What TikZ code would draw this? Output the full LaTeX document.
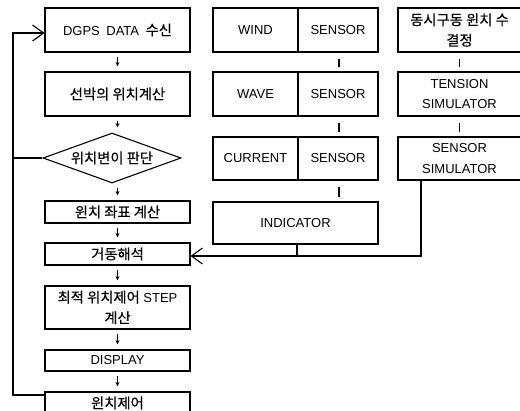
\documentclass[tikz,border=0pt]{standalone}
\usepackage{fontspec}
\setmainfont{Liberation Sans}
\newfontfamily\kr[Scale=1.1,FakeBold=0.4]{Noto Sans CJK KR}
\usetikzlibrary{arrows.meta,shapes.geometric}
\begin{document}
\begin{tikzpicture}[x=1pt,y=-1pt,
  every node/.style={font=\fontsize{13}{20.5}\selectfont, inner sep=0pt, align=center},
  box/.style={draw, line width=1.1pt, rectangle, minimum width=145pt},
  midbox/.style={draw, line width=1.1pt, rectangle, minimum width=165pt},
  rbox/.style={draw, line width=1.1pt, rectangle, minimum width=123pt, minimum height=44pt},
  dia/.style={draw, line width=1.1pt, diamond, minimum width=138pt, minimum height=50pt, aspect=2.76},
  flow/.style={line width=1pt, -{Stealth[length=4.5pt,width=4pt]}, shorten <=4pt, shorten >=5pt},
  tick/.style={line width=1.1pt, shorten <=6pt, shorten >=4pt},
  fb/.style={line width=1.1pt},
  bigarrow/.style={line width=1.1pt, -{Straight Barb[length=11pt,width=16pt,line width=1.1pt]}}]
\useasboundingbox (0,0) rectangle (520,411);
\fill[white] (0,0) rectangle (520,411);

% left column
\node[box, minimum height=44pt] (dgps) at (117.5,30) {DGPS\enspace DATA\enspace{\kr 수신}};
\node[box, minimum height=44pt] (pos) at (117.5,94) {\kr 선박의 위치계산};
\node[dia] (judge) at (112,158) {\kr 위치변이 판단};
\node[box, minimum height=22pt] (wcoord) at (117.5,212) {\kr 윈치 좌표 계산};
\node[box, minimum height=22pt] (dyn) at (117.5,254) {\kr 거동해석};
\node[box, minimum height=43pt] (opt) at (117.5,307.5) {{\kr 최적 위치제어} STEP\\{\kr 계산}};
\node[box, minimum height=21pt] (disp) at (117.5,360.5) {DISPLAY};
\node[box, minimum height=22pt] (wctrl) at (117.5,403) {\kr 윈치제어};

\draw[flow] (dgps.south) -- (pos.north);
\draw[flow] (pos.south) -- (pos.south |- judge.north);
\draw[flow] (pos.south |- judge.south) -- (wcoord.north);
\draw[flow] (wcoord.south) -- (dyn.north);
\draw[flow] (dyn.south) -- (opt.north);
\draw[flow] (opt.south) -- (disp.north);
\draw[flow] (disp.south) -- (wctrl.north);

% feedback loop
\coordinate (fbtop) at (13,33);
\coordinate (fbmid) at (13,158);
\coordinate (fbbot) at (13,395);
\coordinate (dgpsin) at (dgps.west |- fbtop);
\draw[fb] (judge.west) -- (fbmid);
\draw[fb] (wctrl.west |- fbbot) -- (fbbot) -- (fbmid);
\draw[bigarrow] (fbmid) -- (fbtop) -- (dgpsin);

% middle column
\node[midbox, minimum height=44pt] (wind) at (295.5,30) {};
\node[midbox, minimum height=44pt] (wave) at (295.5,94) {};
\node[midbox, minimum height=43pt] (curr) at (295.5,158.5) {};
\node[midbox, minimum height=42pt] (ind) at (295.5,223) {INDICATOR};
\foreach \n in {wind,wave,curr} {
  \draw[line width=1.1pt] (298,0 |- \n.north) -- (298,0 |- \n.south);
}
\node (windl) at (255.5,30) {WIND};
\node (winds) at (338,30) {SENSOR};
\node (wavel) at (255.5,94) {WAVE};
\node (waves) at (338,94) {SENSOR};
\node (currl) at (255.5,158.5) {CURRENT};
\node (currs) at (338,158.5) {SENSOR};
\coordinate (mc) at (339,0);
\draw[tick] (mc |- wind.south) -- (mc |- wave.north);
\draw[tick] (mc |- wave.south) -- (mc |- curr.north);
\draw[tick] (mc |- curr.south) -- (mc |- ind.north);

% right column
\node[rbox] (nwin) at (459.5,30) {{\kr 동시구동 윈치 수}\\{\kr 결정}};
\node[rbox] (tens) at (459.5,94) {TENSION\\SIMULATOR};
\node[rbox, minimum height=43pt] (ssim) at (459.5,158.5) {SENSOR\\SIMULATOR};
\draw[tick] (nwin.south) -- (tens.north);
\draw[tick] (tens.south) -- (ssim.north);

% sensor simulator / indicator to dynamics
\coordinate (ssout) at (421,0 |- ssim.south);
\coordinate (sscorner) at (421,256);
\coordinate (indout) at (297,0 |- ind.south);
\coordinate (indjoin) at (297,256);
\draw[fb] (indout) -- (indjoin);
\draw[bigarrow] (ssout) -- (sscorner) -- (dyn.east |- sscorner);
\end{tikzpicture}
\end{document}
